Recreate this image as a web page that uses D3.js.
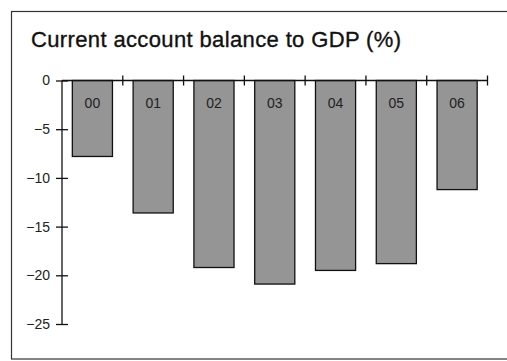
<!DOCTYPE html>
<html>
<head>
<meta charset="utf-8">
<script src="https://cdn.jsdelivr.net/npm/d3@7"></script>
<style>
  html, body { margin: 0; padding: 0; background: #fff; }
  svg { display: block; }
</style>
</head>
<body>
<svg id="chart" width="507" height="361"></svg>
<script>
// Current account balance to GDP, by year (2000–2006)
const years = ["00", "01", "02", "03", "04", "05", "06"];
const balance = [-7.8, -13.6, -19.2, -20.9, -19.5, -18.8, -11.2];
const yTicks = [0, -5, -10, -15, -20, -25];

const svg = d3.select("#chart");
const font = "'Liberation Sans', Arial, sans-serif";

// panel frame
svg.append("rect")
  .attr("x", 11.5).attr("y", 11.5)
  .attr("width", 520).attr("height", 347.5)
  .attr("fill", "#fff").attr("stroke", "#333").attr("stroke-width", 1.2);

svg.append("text")
  .attr("x", 31).attr("y", 47)
  .attr("font-family", font).attr("font-size", 22)
  .attr("fill", "#111").attr("stroke", "#111").attr("stroke-width", 0.35)
  .attr("textLength", 370).attr("lengthAdjust", "spacing")
  .text("Current account balance to GDP (%)");

const x = d3.scaleBand().domain(years).range([62, 487.5]).paddingInner(0.34).paddingOuter(0.17);
const y = d3.scaleLinear().domain([0, -25]).range([80.5, 324]);

// bars
const bars = svg.append("g");
bars.selectAll("rect").data(years).join("rect")
  .attr("x", d => x(d))
  .attr("y", y(0))
  .attr("width", x.bandwidth())
  .attr("height", (d, i) => y(balance[i]) - y(0))
  .attr("fill", "#959595")
  .attr("stroke", "#111").attr("stroke-width", 1.3);

bars.selectAll("text").data(years).join("text")
  .attr("x", d => x(d) + x.bandwidth() / 2)
  .attr("y", 108.3)
  .attr("text-anchor", "middle")
  .attr("font-family", font).attr("font-size", 14)
  .attr("fill", "#222")
  .text(d => d);

// y axis
const yAxis = svg.append("g").attr("transform", "translate(62,0)")
  .call(d3.axisLeft(y).tickValues(yTicks).tickSize(6).tickPadding(8).tickFormat(d3.format("d")));
yAxis.select(".domain").attr("stroke", "#111").attr("stroke-width", 1.3).attr("d", `M0,${y(0)}V${y(-25)}`);
yAxis.selectAll(".tick line").attr("x1", -6).attr("x2", 6).attr("stroke", "#111").attr("stroke-width", 1.3);
yAxis.selectAll(".tick text").attr("font-family", font).attr("font-size", 14).attr("fill", "#222")
  .attr("x", -12);

// x axis along zero, with tick marks at category boundaries
const xAxisG = svg.append("g");
xAxisG.append("line")
  .attr("x1", 62).attr("x2", 487.5).attr("y1", y(0)).attr("y2", y(0))
  .attr("stroke", "#111").attr("stroke-width", 1.3);
const edges = years.map(d => x(d) + x.bandwidth() + x.step() * x.paddingInner() / 2);
xAxisG.selectAll("line.edge").data(edges).join("line").attr("class", "edge")
  .attr("x1", d => d).attr("x2", d => d)
  .attr("y1", y(0) - 5).attr("y2", y(0) + 5)
  .attr("stroke", "#111").attr("stroke-width", 1.3);
</script>
</body>
</html>
